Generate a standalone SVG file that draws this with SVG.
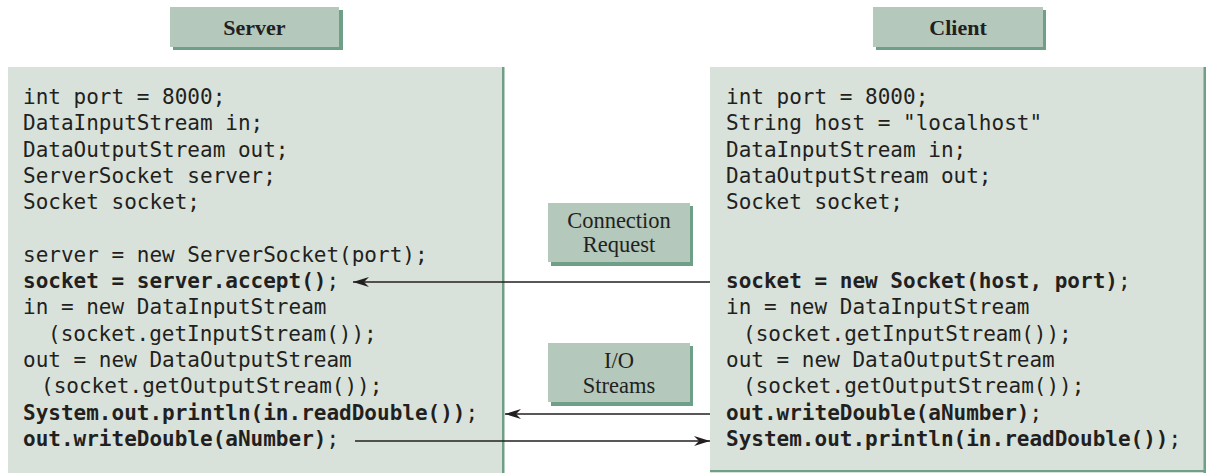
<svg xmlns="http://www.w3.org/2000/svg" width="1206" height="473" viewBox="0 0 1206 473">
<style>
.panel{fill:#d8e2db}
.edge{fill:#6f9f86}
.hdr{fill:#b4c8bb}
.shadow{fill:#6f9f86}
.code{font-family:"DejaVu Sans Mono",monospace;font-size:21px;fill:#231f20}
.b{font-weight:bold}
.n{font-weight:normal}
.title{font-family:"Liberation Serif",serif;font-size:22px;font-weight:bold;fill:#231f20;text-anchor:middle}
.lbl{font-family:"Liberation Serif",serif;font-size:22.5px;fill:#231f20;text-anchor:middle}
.conn{stroke:#231f20;stroke-width:1.5;fill:none}
</style>
<defs>
<marker id="arr" viewBox="0 0 16 10" refX="16" refY="5" markerWidth="16" markerHeight="10" markerUnits="userSpaceOnUse" orient="auto">
<path d="M0,0 L16,5 L0,10 L5,5 Z" fill="#231f20"/>
</marker>
</defs>
<rect width="1206" height="473" fill="#ffffff"/>

<g id="server-header">
<rect x="173" y="10" width="170" height="40" class="shadow"/>
<rect x="170" y="7" width="169" height="40" class="hdr"/>
<text x="254.5" y="35" class="title">Server</text>
</g>

<g id="client-header">
<rect x="876" y="10" width="170" height="40" class="shadow"/>
<rect x="873" y="7" width="170" height="40" class="hdr"/>
<text x="958" y="35" class="title">Client</text>
</g>

<g id="server-panel">
<rect x="8" y="67" width="495" height="406" class="panel"/>
<rect x="502" y="67" width="2.5" height="406" class="edge"/>
<text class="code" x="23" y="104">int port = 8000;</text>
<text class="code" x="23" y="130.3">DataInputStream in;</text>
<text class="code" x="23" y="156.6">DataOutputStream out;</text>
<text class="code" x="23" y="182.9">ServerSocket server;</text>
<text class="code" x="23" y="209.2">Socket socket;</text>
<text class="code" x="23" y="261.8">server = new ServerSocket(port);</text>
<text class="code b" x="23" y="288.1">socket = server.accept()<tspan class="n">;</tspan></text>
<text class="code" x="23" y="314.4">in = new DataInputStream</text>
<text class="code" x="48" y="340.7">(socket.getInputStream());</text>
<text class="code" x="23" y="367">out = new DataOutputStream</text>
<text class="code" x="41" y="393.3">(socket.getOutputStream());</text>
<text class="code b" x="23" y="419.6">System.out.println(in.readDouble())<tspan class="n">;</tspan></text>
<text class="code b" x="23" y="445.9">out.writeDouble(aNumber)<tspan class="n">;</tspan></text>
</g>

<g id="client-panel">
<rect x="710" y="67" width="496" height="406" class="panel"/>
<rect x="1203.5" y="67" width="2.5" height="406" class="edge"/>
<rect x="710" y="470" width="496" height="2" class="edge"/>
<text class="code" x="726" y="104">int port = 8000;</text>
<text class="code" x="726" y="130.3">String host = "localhost"</text>
<text class="code" x="726" y="156.6">DataInputStream in;</text>
<text class="code" x="726" y="182.9">DataOutputStream out;</text>
<text class="code" x="726" y="209.2">Socket socket;</text>
<text class="code b" x="726" y="288.1">socket = new Socket(host, port)<tspan class="n">;</tspan></text>
<text class="code" x="726" y="314.4">in = new DataInputStream</text>
<text class="code" x="743" y="340.7">(socket.getInputStream());</text>
<text class="code" x="726" y="367">out = new DataOutputStream</text>
<text class="code" x="743" y="393.3">(socket.getOutputStream());</text>
<text class="code b" x="726" y="419.6">out.writeDouble(aNumber)<tspan class="n">;</tspan></text>
<text class="code b" x="726" y="445.9">System.out.println(in.readDouble())<tspan class="n">;</tspan></text>
</g>

<g id="connection-request">
<rect x="551" y="206" width="142" height="60" class="shadow"/>
<rect x="548" y="203" width="142" height="59" class="hdr"/>
<text x="619" y="228" class="lbl">Connection</text>
<text x="619" y="252" class="lbl">Request</text>
</g>

<g id="io-streams">
<rect x="551" y="346" width="142" height="60" class="shadow"/>
<rect x="548" y="343" width="142" height="59" class="hdr"/>
<text x="619" y="368" class="lbl">I/O</text>
<text x="619" y="393" class="lbl">Streams</text>
</g>

<g id="connectors">
<line x1="710" y1="282" x2="353" y2="282" class="conn" marker-end="url(#arr)"/>
<line x1="710" y1="414" x2="505" y2="414" class="conn" marker-end="url(#arr)"/>
<line x1="355" y1="441" x2="710" y2="441" class="conn" marker-end="url(#arr)"/>
</g>
</svg>
